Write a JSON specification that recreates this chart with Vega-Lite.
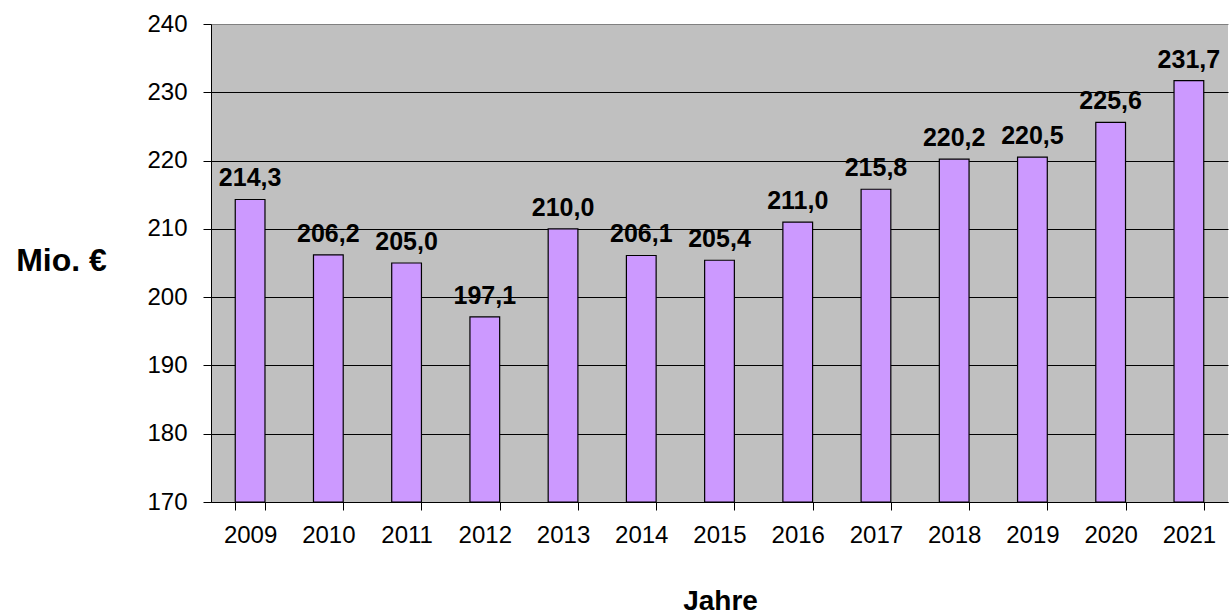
{
  "$schema": "https://vega.github.io/schema/vega-lite/v6.json",
  "autosize": "none",
  "width": 1017,
  "height": 478,
  "padding": {"left": 211, "top": 24, "right": 3, "bottom": 113},
  "background": "white",
  "config": {
    "locale": {"number": {"decimal": ",", "thousands": ".", "grouping": [3], "currency": ["", " €"]}},
    "view": {"fill": "#c0c0c0", "stroke": null},
    "font": "Liberation Sans"
  },
  "data": {"values": [
    {"Jahr": "2009", "Wert": 214.3},
    {"Jahr": "2010", "Wert": 206.2},
    {"Jahr": "2011", "Wert": 205.0},
    {"Jahr": "2012", "Wert": 197.1},
    {"Jahr": "2013", "Wert": 210.0},
    {"Jahr": "2014", "Wert": 206.1},
    {"Jahr": "2015", "Wert": 205.4},
    {"Jahr": "2016", "Wert": 211.0},
    {"Jahr": "2017", "Wert": 215.8},
    {"Jahr": "2018", "Wert": 220.2},
    {"Jahr": "2019", "Wert": 220.5},
    {"Jahr": "2020", "Wert": 225.6},
    {"Jahr": "2021", "Wert": 231.7}
  ]},
  "encoding": {
    "x": {
      "field": "Jahr", "type": "nominal", "sort": null,
      "scale": {"paddingInner": 0.62, "paddingOuter": 0.31},
      "axis": {
        "title": "Jahre", "titleFont": "Liberation Sans", "titleFontSize": 28, "titleFontWeight": "bold",
        "titleColor": "black", "titleBaseline": "middle", "titleY": 99, "titleX": 509,
        "labelFont": "Liberation Sans", "labelFontSize": 24, "labelColor": "black", "labelAngle": 0,
        "labelPadding": 13, "tickSize": 8, "tickColor": "black", "tickBand": "extent",
        "domainColor": "black", "domainWidth": 1, "grid": false
      }
    },
    "y": {
      "field": "Wert", "type": "quantitative",
      "scale": {"domain": [170, 240], "zero": false, "nice": false},
      "axis": {
        "title": "Mio. €", "titleFont": "Liberation Sans", "titleFontSize": 32, "titleFontWeight": "bold",
        "titleColor": "black", "titleAngle": 0, "titleAlign": "center", "titleBaseline": "middle",
        "titleX": -150, "titleY": 236,
        "values": [170, 180, 190, 200, 210, 220, 230, 240], "format": "d",
        "labelFont": "Liberation Sans", "labelFontSize": 24, "labelColor": "black", "labelPadding": 16,
        "tickSize": 8, "tickColor": "black", "domainColor": "black",
        "grid": true,
        "gridColor": {"condition": {"test": "datum.value == 240", "value": "#808080"}, "value": "black"},
        "gridWidth": 1, "gridOpacity": 1
      }
    }
  },
  "layer": [
    {
      "mark": {"type": "bar", "fill": "#cc99ff", "stroke": "black", "strokeWidth": 1.2},
      "encoding": {"y": {"field": "Wert", "type": "quantitative"}, "y2": {"datum": 170}}
    },
    {
      "mark": {"type": "text", "font": "Liberation Sans", "fontSize": 25, "fontWeight": "bold", "color": "black", "baseline": "alphabetic", "dy": -13},
      "encoding": {"text": {"field": "Wert", "type": "quantitative", "format": ".1f"}}
    }
  ]
}
